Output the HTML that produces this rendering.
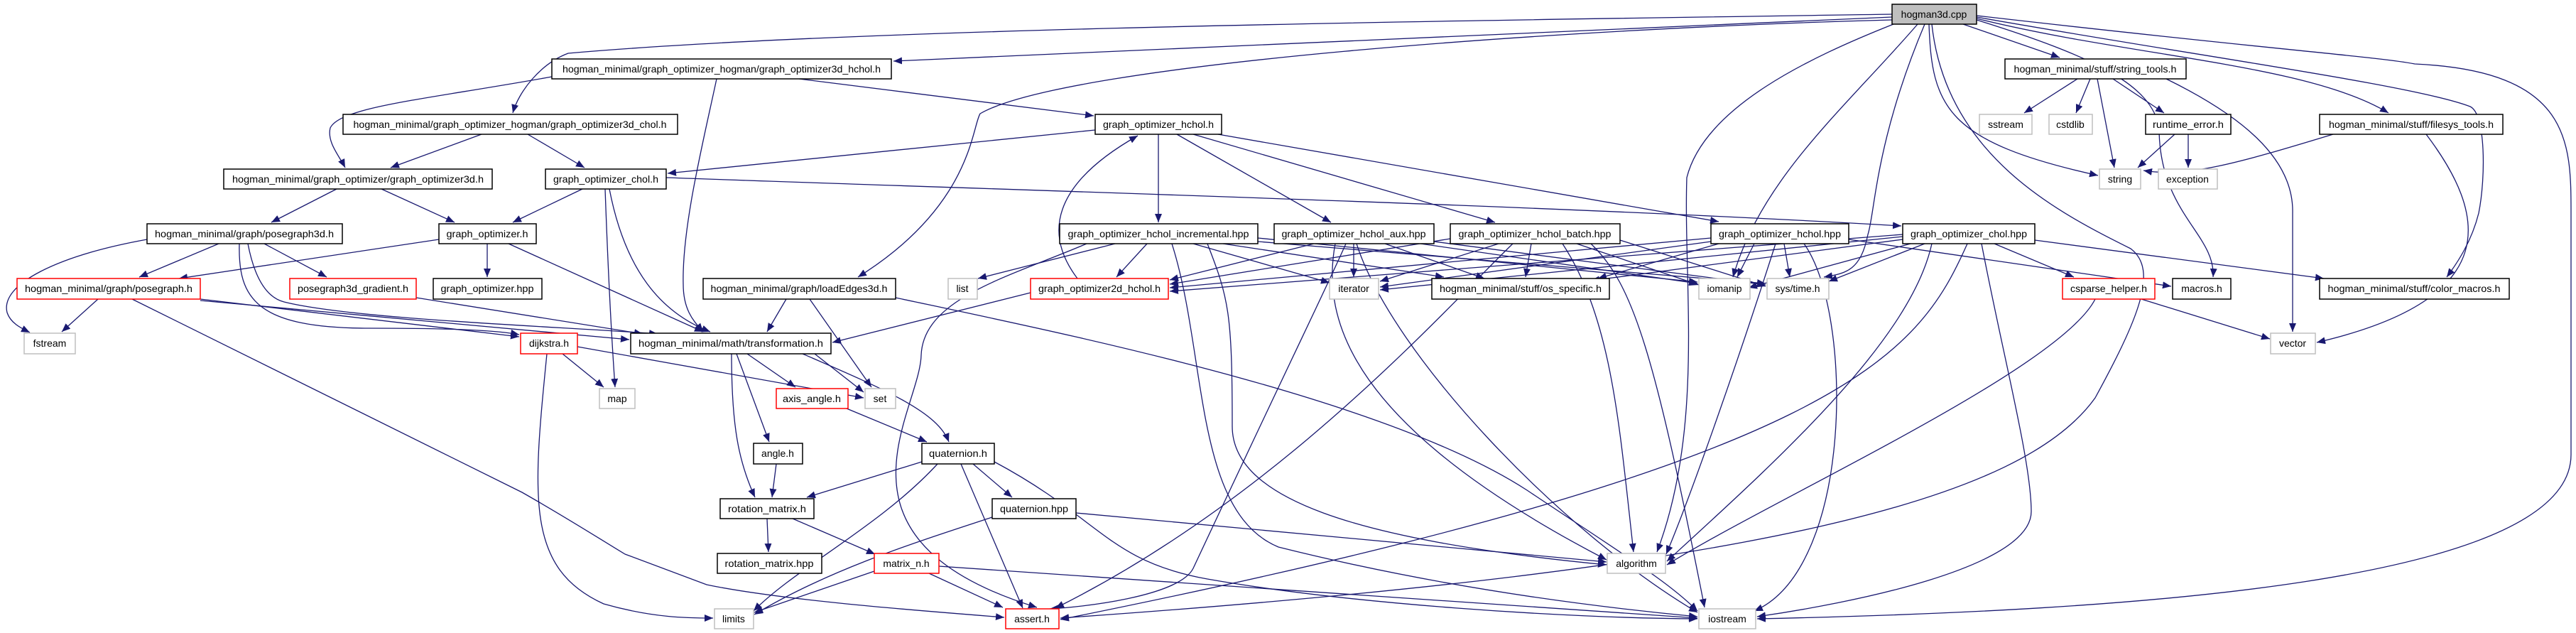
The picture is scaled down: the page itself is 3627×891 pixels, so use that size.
<!DOCTYPE html>
<html><head><meta charset="utf-8"><style>
html,body{margin:0;padding:0;background:#fff;}
svg{display:block;}
text{font-family:"Liberation Sans",sans-serif;font-size:14px;fill:#000;text-anchor:middle;}
.e{fill:none;stroke:#191970;stroke-width:1.3;marker-end:url(#a);}
.n{fill:#fff;stroke:#000;stroke-width:1.5;}
.g{fill:#fff;stroke:#bfbfbf;stroke-width:1.5;}
.r{fill:#fff;stroke:#ff0000;stroke-width:1.5;}
.root{fill:#bfbfbf;stroke:#000;stroke-width:1.5;}
</style></head><body>
<svg width="3627" height="891" viewBox="0 0 3627 891" xmlns="http://www.w3.org/2000/svg">
<defs><marker id="a" markerUnits="userSpaceOnUse" markerWidth="14" markerHeight="12" refX="12" refY="5" orient="auto"><path d="M0,0 L12,5 L0,10 z" fill="#191970"/></marker></defs>
<g>
<!-- root edges -->
<path class="e" d="M2664,24 L1258,86"/>
<path class="e" d="M2664,20 C2000,30 1200,40 800,75 C760,90 730,130 722,159"/>
<path class="e" d="M2664,28 C2200,40 1500,90 1380,160 C1368,180 1368,290 1208,390"/>
<path class="e" d="M2666,34 C2550,80 2400,150 2375,250 C2370,400 2400,600 2333,777"/>
<path class="e" d="M2710,34 C2640,200 2640,300 2630,330 C2620,380 2600,385 2568,390"/>
<path class="e" d="M2716,34 C2720,150 2740,200 2954,247"/>
<path class="e" d="M2720,34 C2740,220 2900,300 3000,350 C3040,380 3010,450 2950,560 C2850,700 2500,800 1493,870"/>
<path class="e" d="M2783,28 C2950,80 3030,120 3040,180 C3040,300 3120,330 3116,390"/>
<path class="e" d="M2783,26 C3000,80 3250,90 3363,159"/>
<path class="e" d="M2783,24 C3100,80 3400,120 3478,150 C3500,160 3500,250 3490,300 C3480,340 3460,370 3445,390"/>
<path class="e" d="M2783,22 C3200,70 3350,80 3400,90 C3620,100 3620,200 3620,300 L3620,640 C3620,820 3000,860 2474,871"/>
<path class="e" d="M2764,34 L2900,81"/>
<path class="e" d="M2700,34 C2600,150 2480,250 2440,390"/>
<!-- g3d_hchol -->
<path class="e" d="M777,108 C600,140 480,150 465,180 C460,200 478,220 486,236"/>
<path class="e" d="M1009,111 C990,200 960,320 962,400 C962,440 980,455 990,467"/>
<path class="e" d="M1125,111 L1540,163"/>
<!-- g3d_chol -->
<path class="e" d="M678,189 L550,236"/>
<path class="e" d="M743,189 L823,236"/>
<!-- hchol.h -->
<path class="e" d="M1542,183 L940,244"/>
<path class="e" d="M1631,189 L1631,313"/>
<path class="e" d="M1657,189 L1874,313"/>
<path class="e" d="M1680,189 L2105,313"/>
<path class="e" d="M1715,189 L2420,312"/>
<!-- chol.h -->
<path class="e" d="M938,250 C1500,270 2200,290 2677,318"/>
<path class="e" d="M820,266 L722,313"/>
<path class="e" d="M852,266 C855,350 860,460 866,545"/>
<path class="e" d="M858,266 C880,380 930,440 1000,467"/>
<!-- g3d.h -->
<path class="e" d="M474,266 L382,313"/>
<path class="e" d="M537,266 L640,313"/>
<!-- posegraph3d -->
<path class="e" d="M207,337 C80,360 0,400 10,440 C15,455 30,462 42,468"/>
<path class="e" d="M308,343 L196,390"/>
<path class="e" d="M372,343 L460,390"/>
<path class="e" d="M337,343 C335,420 360,462 520,462 C640,462 700,465 731,471"/>
<path class="e" d="M349,343 C360,400 380,420 400,425 C500,450 800,460 926,470"/>
<!-- graph_optimizer.h -->
<path class="e" d="M618,337 L252,392"/>
<path class="e" d="M686,343 L686,390"/>
<path class="e" d="M716,343 L990,467"/>
<!-- posegraph.h -->
<path class="e" d="M138,421 L87,467"/>
<path class="e" d="M186,421 L735,693 C800,730 842,757 880,780 L995,823 C1100,845 1300,860 1414,869"/>
<path class="e" d="M282,421 L731,474"/>
<path class="e" d="M282,423 L886,478"/>
<path class="e" d="M586,419 L905,470"/>
<!-- loadEdges -->
<path class="e" d="M1107,421 L1080,467"/>
<path class="e" d="M1140,421 L1227,545"/>
<path class="e" d="M1261,419 C1500,470 1950,560 2150,690 C2300,790 2350,820 2390,860"/>
<!-- transformation -->
<path class="e" d="M1147,498 L1216,552"/>
<path class="e" d="M1052,498 L1120,545"/>
<path class="e" d="M1037,498 L1083,622"/>
<path class="e" d="M1030,498 C1030,600 1040,650 1063,700"/>
<path class="e" d="M1130,498 C1250,550 1320,580 1336,622"/>
<!-- dijkstra -->
<path class="e" d="M792,498 L850,545"/>
<path class="e" d="M813,488 L1216,560"/>
<path class="e" d="M770,498 C750,700 740,800 850,850 C920,870 970,870 1004,870"/>
<path class="e" d="M1192,575 L1305,622"/>
<path class="e" d="M1093,653 L1087,700"/>
<!-- quaternion -->
<path class="e" d="M1298,650 L1136,700"/>
<path class="e" d="M1320,653 C1240,740 1120,800 1061,860"/>
<path class="e" d="M1370,653 L1425,700"/>
<path class="e" d="M1353,653 L1440,856"/>
<path class="e" d="M1400,650 C1550,730 1560,790 1700,815 C1900,850 2200,870 2390,871"/>
<path class="e" d="M1397,728 C1300,760 1170,800 1062,865"/>
<path class="e" d="M1515,722 L2262,791"/>
<path class="e" d="M1080,730 L1082,777"/>
<path class="e" d="M1116,730 L1232,780"/>
<path class="e" d="M1231,804 L1062,862"/>
<path class="e" d="M1308,807 L1412,855"/>
<path class="e" d="M1322,797 L2390,870"/>
<!-- 2d_hchol -->
<path class="e" d="M1517,392 C1470,330 1480,260 1602,191"/>
<path class="e" d="M1451,412 L1172,482"/>
<!-- incremental -->
<path class="e" d="M1570,343 L1377,392"/>
<path class="e" d="M1615,343 L1572,390"/>
<path class="e" d="M1680,343 L1872,398"/>
<path class="e" d="M1722,343 L2033,390"/>
<path class="e" d="M1771,340 L2486,399"/>
<path class="e" d="M1771,335 L2390,397"/>
<path class="e" d="M1650,343 C1700,500 1680,720 1800,770 C2000,820 2200,850 2390,868"/>
<path class="e" d="M1700,343 C1730,420 1735,440 1735,600 C1735,700 1900,760 2262,795"/>
<path class="e" d="M1530,343 C1420,390 1300,420 1297,500 C1295,580 1150,760 1460,855"/>
<!-- aux -->
<path class="e" d="M1850,343 L1647,394"/>
<path class="e" d="M1906,343 L1906,390"/>
<path class="e" d="M1950,343 L2090,392"/>
<path class="e" d="M2000,343 L2390,399"/>
<path class="e" d="M2019,340 L2486,401"/>
<path class="e" d="M1895,343 C1870,400 1830,480 1680,800 C1660,840 1520,855 1478,857"/>
<path class="e" d="M1880,343 C1860,450 1900,600 2262,788"/>
<path class="e" d="M1910,343 C1960,500 2200,750 2390,862"/>
<!-- batch -->
<path class="e" d="M2042,336 L1647,400"/>
<path class="e" d="M2110,343 L1943,396"/>
<path class="e" d="M2156,343 L2148,390"/>
<path class="e" d="M2220,343 L2392,401"/>
<path class="e" d="M2281,338 L2486,403"/>
<path class="e" d="M2200,343 C2270,450 2280,600 2300,777"/>
<path class="e" d="M2130,343 C2030,440 1800,700 1486,856"/>
<path class="e" d="M2240,343 C2300,400 2330,500 2400,855"/>
<!-- hchol.hpp -->
<path class="e" d="M2409,335 L1647,405"/>
<path class="e" d="M2409,340 L1943,404"/>
<path class="e" d="M2420,343 L2250,392"/>
<path class="e" d="M2470,343 L2446,390"/>
<path class="e" d="M2512,343 L2520,390"/>
<path class="e" d="M2603,337 L3057,403"/>
<path class="e" d="M2500,343 C2450,500 2380,700 2346,780"/>
<path class="e" d="M2540,343 C2610,440 2610,800 2470,860"/>
<!-- chol.hpp -->
<path class="e" d="M2679,330 L1647,410"/>
<path class="e" d="M2679,333 L1943,408"/>
<path class="e" d="M2679,337 L2240,395"/>
<path class="e" d="M2690,343 L2462,405"/>
<path class="e" d="M2710,343 L2575,396"/>
<path class="e" d="M2808,343 L2920,390"/>
<path class="e" d="M2865,338 L3272,392"/>
<path class="e" d="M2720,343 C2690,480 2500,650 2347,790"/>
<path class="e" d="M2770,343 C2700,500 2600,650 1493,872"/>
<path class="e" d="M2790,343 C2820,500 2860,650 2860,720 C2860,800 2600,850 2474,868"/>
<!-- csparse -->
<path class="e" d="M3015,421 L3196,477"/>
<path class="e" d="M2950,421 C2900,520 2500,700 2347,795"/>
<!-- string_tools -->
<path class="e" d="M2925,111 L2850,159"/>
<path class="e" d="M2943,111 L2923,159"/>
<path class="e" d="M2953,111 L2977,236"/>
<path class="e" d="M2975,111 L3047,159"/>
<path class="e" d="M3050,111 C3150,160 3230,220 3228,300 L3228,467"/>
<path class="e" d="M3062,189 L3010,236"/>
<path class="e" d="M3081,189 L3081,236"/>
<path class="e" d="M3285,189 C3150,230 3080,250 3018,240"/>
<path class="e" d="M3416,189 C3500,300 3530,420 3262,482"/>
</g>
<g>
<rect class="root" x="2664" y="6" width="119" height="28"/><text x="2723" y="25">hogman3d.cpp</text>
<rect class="n" x="777" y="83" width="478" height="28"/><text x="1016" y="102" textLength="448" lengthAdjust="spacingAndGlyphs">hogman_minimal/graph_optimizer_hogman/graph_optimizer3d_hchol.h</text>
<rect class="n" x="483" y="161" width="471" height="28"/><text x="718" y="180" textLength="441" lengthAdjust="spacingAndGlyphs">hogman_minimal/graph_optimizer_hogman/graph_optimizer3d_chol.h</text>
<rect class="n" x="1542" y="161" width="178" height="28"/><text x="1631" y="180" textLength="156" lengthAdjust="spacingAndGlyphs">graph_optimizer_hchol.h</text>
<rect class="n" x="2823" y="83" width="255" height="28"/><text x="2950" y="102" textLength="229" lengthAdjust="spacingAndGlyphs">hogman_minimal/stuff/string_tools.h</text>
<rect class="g" x="2787" y="161" width="74" height="28"/><text x="2824" y="180">sstream</text>
<rect class="g" x="2885" y="161" width="61" height="28"/><text x="2915" y="180">cstdlib</text>
<rect class="n" x="3021" y="161" width="120" height="28"/><text x="3081" y="180" textLength="100" lengthAdjust="spacingAndGlyphs">runtime_error.h</text>
<rect class="n" x="3266" y="161" width="258" height="28"/><text x="3395" y="180" textLength="232" lengthAdjust="spacingAndGlyphs">hogman_minimal/stuff/filesys_tools.h</text>
<rect class="g" x="2956" y="238" width="58" height="28"/><text x="2985" y="257">string</text>
<rect class="g" x="3039" y="238" width="83" height="28"/><text x="3080" y="257">exception</text>
<rect class="n" x="315" y="238" width="378" height="28"/><text x="504" y="257" textLength="354" lengthAdjust="spacingAndGlyphs">hogman_minimal/graph_optimizer/graph_optimizer3d.h</text>
<rect class="n" x="768" y="238" width="170" height="28"/><text x="853" y="257" textLength="148" lengthAdjust="spacingAndGlyphs">graph_optimizer_chol.h</text>
<rect class="n" x="207" y="315" width="275" height="28"/><text x="344" y="334" textLength="252" lengthAdjust="spacingAndGlyphs">hogman_minimal/graph/posegraph3d.h</text>
<rect class="n" x="618" y="315" width="137" height="28"/><text x="686" y="334" textLength="115" lengthAdjust="spacingAndGlyphs">graph_optimizer.h</text>
<rect class="n" x="1492" y="315" width="279" height="28"/><text x="1631" y="334" textLength="255" lengthAdjust="spacingAndGlyphs">graph_optimizer_hchol_incremental.hpp</text>
<rect class="n" x="1794" y="315" width="225" height="28"/><text x="1906" y="334" textLength="203" lengthAdjust="spacingAndGlyphs">graph_optimizer_hchol_aux.hpp</text>
<rect class="n" x="2042" y="315" width="239" height="28"/><text x="2161" y="334" textLength="215" lengthAdjust="spacingAndGlyphs">graph_optimizer_hchol_batch.hpp</text>
<rect class="n" x="2409" y="315" width="194" height="28"/><text x="2506" y="334" textLength="172" lengthAdjust="spacingAndGlyphs">graph_optimizer_hchol.hpp</text>
<rect class="n" x="2679" y="315" width="186" height="28"/><text x="2772" y="334" textLength="164" lengthAdjust="spacingAndGlyphs">graph_optimizer_chol.hpp</text>
<rect class="r" x="24" y="392" width="258" height="29"/><text x="153" y="411" textLength="236" lengthAdjust="spacingAndGlyphs">hogman_minimal/graph/posegraph.h</text>
<rect class="r" x="408" y="392" width="178" height="29"/><text x="497" y="411" textLength="156" lengthAdjust="spacingAndGlyphs">posegraph3d_gradient.h</text>
<rect class="n" x="610" y="392" width="153" height="29"/><text x="686" y="411" textLength="131" lengthAdjust="spacingAndGlyphs">graph_optimizer.hpp</text>
<rect class="n" x="990" y="392" width="271" height="29"/><text x="1125" y="411" textLength="249" lengthAdjust="spacingAndGlyphs">hogman_minimal/graph/loadEdges3d.h</text>
<rect class="g" x="1335" y="392" width="41" height="29"/><text x="1355" y="411">list</text>
<rect class="r" x="1451" y="392" width="194" height="29"/><text x="1548" y="411" textLength="172" lengthAdjust="spacingAndGlyphs">graph_optimizer2d_hchol.h</text>
<rect class="g" x="1872" y="392" width="69" height="29"/><text x="1906" y="411">iterator</text>
<rect class="n" x="2016" y="392" width="250" height="29"/><text x="2141" y="411" textLength="228" lengthAdjust="spacingAndGlyphs">hogman_minimal/stuff/os_specific.h</text>
<rect class="g" x="2392" y="392" width="72" height="29"/><text x="2428" y="411">iomanip</text>
<rect class="g" x="2488" y="392" width="87" height="29"/><text x="2531" y="411">sys/time.h</text>
<rect class="r" x="2904" y="392" width="130" height="29"/><text x="2969" y="411" textLength="108" lengthAdjust="spacingAndGlyphs">csparse_helper.h</text>
<rect class="n" x="3059" y="392" width="82" height="29"/><text x="3100" y="411">macros.h</text>
<rect class="n" x="3266" y="392" width="267" height="29"/><text x="3399" y="411" textLength="243" lengthAdjust="spacingAndGlyphs">hogman_minimal/stuff/color_macros.h</text>
<rect class="g" x="34" y="469" width="72" height="29"/><text x="70" y="488">fstream</text>
<rect class="r" x="733" y="469" width="80" height="29"/><text x="773" y="488">dijkstra.h</text>
<rect class="n" x="888" y="469" width="282" height="29"/><text x="1029" y="488" textLength="260" lengthAdjust="spacingAndGlyphs">hogman_minimal/math/transformation.h</text>
<rect class="g" x="3197" y="469" width="63" height="29"/><text x="3228" y="488">vector</text>
<rect class="g" x="844" y="547" width="50" height="28"/><text x="869" y="566">map</text>
<rect class="g" x="1218" y="547" width="43" height="28"/><text x="1239" y="566">set</text>
<rect class="r" x="1093" y="547" width="101" height="28"/><text x="1143" y="566" textLength="82" lengthAdjust="spacingAndGlyphs">axis_angle.h</text>
<rect class="n" x="1061" y="624" width="69" height="29"/><text x="1095" y="643">angle.h</text>
<rect class="n" x="1298" y="624" width="102" height="29"/><text x="1349" y="643" textLength="82" lengthAdjust="spacingAndGlyphs">quaternion.h</text>
<rect class="n" x="1014" y="702" width="132" height="28"/><text x="1080" y="721" textLength="110" lengthAdjust="spacingAndGlyphs">rotation_matrix.h</text>
<rect class="n" x="1397" y="702" width="118" height="28"/><text x="1456" y="721" textLength="96" lengthAdjust="spacingAndGlyphs">quaternion.hpp</text>
<rect class="n" x="1010" y="779" width="147" height="28"/><text x="1083" y="798" textLength="125" lengthAdjust="spacingAndGlyphs">rotation_matrix.hpp</text>
<rect class="r" x="1231" y="779" width="91" height="28"/><text x="1276" y="798">matrix_n.h</text>
<rect class="g" x="2263" y="779" width="82" height="28"/><text x="2304" y="798">algorithm</text>
<rect class="g" x="1006" y="857" width="55" height="28"/><text x="1033" y="876">limits</text>
<rect class="r" x="1416" y="857" width="75" height="28"/><text x="1453" y="876">assert.h</text>
<rect class="g" x="2392" y="857" width="80" height="28"/><text x="2432" y="876">iostream</text>
</g>
</svg>
</body></html>
